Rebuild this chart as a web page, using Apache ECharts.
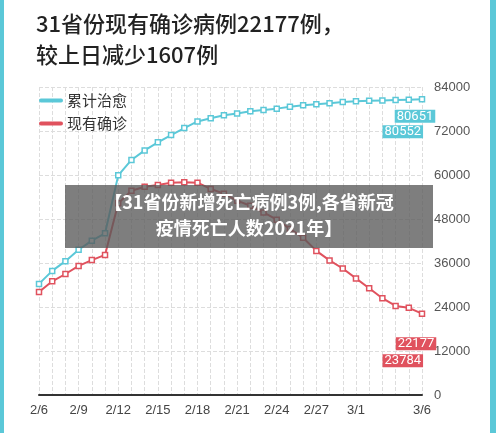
<!DOCTYPE html><html><head><meta charset="utf-8"><script src="https://cdn.jsdelivr.net/npm/echarts@6/dist/echarts.min.js"></script>
<style>html,body{margin:0;padding:0;background:#fff}#c{width:500px;height:433px}</style></head><body><div id="c"></div><script>
const categories=['2/6','2/7','2/8','2/9','2/10','2/11','2/12','2/13','2/14','2/15','2/16','2/17','2/18','2/19','2/20','2/21','2/22','2/23','2/24','2/25','2/26','2/27','2/28','2/29','3/1','3/2','3/3','3/4','3/5','3/6'];
const cured=[30300,33850,36500,39600,42100,44100,59900,64100,66700,68900,70900,72800,74600,75500,76300,76800,77400,77700,78100,78600,79000,79300,79600,79900,80100,80250,80350,80450,80552,80651];
const current=[28100,31000,33000,35200,36800,38200,52300,55700,56800,57300,57900,58000,57900,56200,54900,53000,51600,49800,47800,45300,42900,39300,36700,34500,31800,29100,26400,24300,23784,22177];
const yTicks=[0,12000,24000,36000,48000,60000,72000,84000];
const CY='#5bc8d8',RD='#e0525e';
const ch=echarts.init(document.getElementById('c'));
function mk(data,color,offs){return data.map((v,i)=>{if(offs[i])return {value:v,label:{show:true,position:'inside',offset:offs[i],formatter:'{c}',color:'#fff',backgroundColor:color,fontSize:13,padding:[0,2],fontFamily:'Roboto'}};return v;});}
ch.setOption({
animation:false,
title:{text:'31省份现有确诊病例22177例，\n较上日减少1607例',left:31,top:3,textStyle:{fontSize:22,fontWeight:500,color:'#222',lineHeight:31,fontFamily:'Noto Sans CJK SC'}},
legend:{left:34,top:88,orient:'vertical',itemGap:8,itemWidth:22,itemHeight:10,icon:'path://M0,4 L22,4 A1,1 0 0 1 22,6 L0,6 A1,1 0 0 1 0,4 Z',textStyle:{fontSize:15,color:'#333',fontFamily:'Noto Sans CJK SC'},data:['累计治愈','现有确诊']},
grid:{left:39,right:78,top:87,bottom:38},
xAxis:{type:'category',data:categories,boundaryGap:false,axisLine:{lineStyle:{color:'#333',width:2}},axisTick:{show:false},
 axisLabel:{interval:0,formatter:(v,i)=>((i%3===0&&i<=24)||i===29)?v:'',color:'#444',fontSize:13,margin:9},
 splitLine:{show:true,lineStyle:{type:'dashed',color:'#ddd'}}},
yAxis:{type:'value',position:'right',min:0,max:84000,interval:12000,axisLine:{show:false},axisTick:{show:false},
 axisLabel:{color:'#555',fontSize:13,margin:12,formatter:v=>String(v)},splitLine:{lineStyle:{type:'dashed',color:'#ddd'}}},
series:[
 {name:'累计治愈',type:'line',data:mk(cured,CY,{28:[-6,32],29:[-7,17]}),color:CY,symbol:'rect',symbolSize:5,itemStyle:{color:'#fff',borderColor:CY,borderWidth:1.5},lineStyle:{color:CY,width:2}},
 {name:'现有确诊',type:'line',data:mk(current,RD,{28:[-6,53],29:[-6,30]}),color:RD,symbol:'rect',symbolSize:5,itemStyle:{color:'#fff',borderColor:RD,borderWidth:1.5},lineStyle:{color:RD,width:2}}
],
graphic:[
 {type:'rect',left:0,top:0,shape:{width:4,height:433},style:{fill:CY}},
 {type:'rect',left:490,top:0,shape:{width:6,height:433},style:{fill:CY}},
 {type:'rect',z:100,left:65,top:185,shape:{width:368,height:63},style:{fill:'rgba(90,90,90,0.78)'}},
 {type:'text',z:101,x:249,y:189,style:{text:'【31省份新增死亡病例3例,各省新冠\n疫情死亡人数2021年】',fill:'#fff',fontSize:18,fontWeight:'bold',lineHeight:26,align:'center',textAlign:'center',fontFamily:'Noto Sans CJK SC'}}
]});
</script></body></html>
